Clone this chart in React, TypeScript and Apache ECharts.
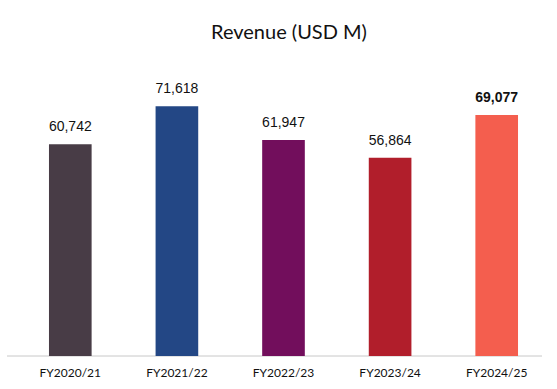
import React, { useEffect, useRef } from "react";
import * as echarts from "echarts";

const categories = ["FY2020/21", "FY2021/22", "FY2022/23", "FY2023/24", "FY2024/25"];
const revenue = [60742, 71618, 61947, 56864, 69077];
const barColors = ["#483C46", "#234785", "#720E5C", "#B11E2B", "#F45E4E"];
const boldLabel = [false, false, false, false, true];

export default function App() {
  const ref = useRef<HTMLDivElement>(null);
  useEffect(() => {
    if (!ref.current) return;
    const chart = echarts.init(ref.current, null, { renderer: "svg" });
    chart.setOption({
      animation: false,
      backgroundColor: "#ffffff",
      title: {
        text: "Revenue (USD M)",
        left: 206,
        top: 16,
        textStyle: { fontFamily: "Lato", fontSize: 20, fontWeight: "normal", color: "#111" },
      },
      grid: { left: 17, right: 7, top: 77, bottom: 33 },
      xAxis: {
        type: "category",
        data: categories,
        axisLine: { show: false },
        axisTick: { show: false },
        axisLabel: { fontFamily: "Lato", fontSize: 12, color: "#111", margin: 10 },
      },
      yAxis: { type: "value", min: 0, max: 80000, show: false, splitLine: { show: false } },
      graphic: [
        {
          type: "line",
          shape: { x1: 7, y1: 356, x2: 542, y2: 356 },
          style: { stroke: "#c8c8c8", lineWidth: 1 },
          silent: true,
        },
      ],
      series: [
        {
          type: "bar",
          barWidth: "40%",
          data: revenue.map((v, i) => ({
            value: v,
            itemStyle: { color: barColors[i] },
            label: {
              show: true,
              position: "top",
              distance: 11,
              fontFamily: "Liberation Sans, Arial, sans-serif",
              fontSize: 14,
              color: "#111",
              fontWeight: boldLabel[i] ? "bold" : "normal",
              formatter: (p: any) => Number(p.value).toLocaleString("en-US"),
            },
          })),
        },
      ],
    });
    return () => chart.dispose();
  }, []);
  return <div ref={ref} style={{ position: "absolute", left: 0, top: 0, width: 557, height: 389 }} />;
}
